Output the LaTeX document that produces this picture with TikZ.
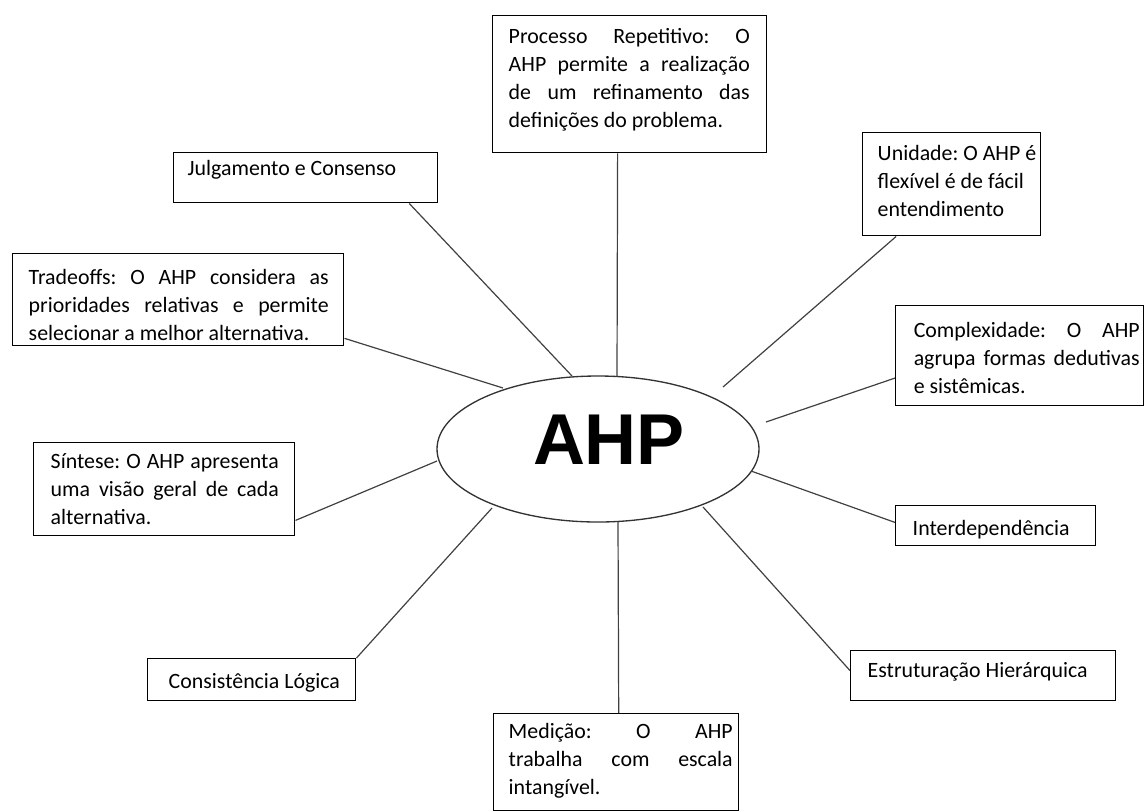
\documentclass[tikz,border=0pt]{standalone}
\usepackage{fontspec}
\setmainfont{Carlito}
\newfontfamily\ahpfont{Liberation Sans}
\usetikzlibrary{shapes.geometric,calc}
\newdimen\px \px=0.75pt
\frenchspacing
% #1 width, #2 height, #3 left skip, #4 right skip, #5 first baseline offset, #6 text
\newcommand\boxtext[6]{\parbox[c][#2\px][t]{#1\px}{\frenchspacing\tolerance=10000\hyphenpenalty=10000\leftskip=#3\rightskip=#4\rule{0pt}{#5\px}#6}}
\begin{document}
\begin{tikzpicture}[x=0.75pt,y=-0.75pt,
  box/.style={draw=black, line width=1.1pt, anchor=north west, inner sep=0pt, fill=white,
    font=\fontsize{16.4pt}{21pt}\selectfont},
  conn/.style={draw=black!75, line width=0.9pt},
  hub/.style={draw=black!80, line width=1pt, ellipse, minimum width=241.5pt, minimum height=109.5pt, inner sep=0pt},
  hubtext/.style={inner sep=0pt, font=\ahpfont\bfseries\fontsize{54pt}{54pt}\selectfont}]
\useasboundingbox (0,0) rectangle (1144,811);

% central ellipse
\node[hub] (ahp) at (598,449) {};
\node[hubtext] (ahptext) at (609,440) {AHP};

% boxes
\node[box] (b1) at (492,15) {\boxtext{274}{137}{16\px}{17\px}{28}{Processo Repetitivo: O\linebreak AHP permite a realização\linebreak de um refinamento das\linebreak definições do problema.}};
\node[box] (b2) at (173,152) {\boxtext{264}{50}{14\px}{5\px plus 1fil}{23}{Julgamento e Consenso}};
\node[box] (b3) at (862,132) {\boxtext{178}{103}{15\px}{3\px plus 1fil}{28}{Unidade: O AHP é\\flexível é de fácil\\entendimento}};
\node[box] (b4) at (12,253) {\boxtext{331}{92}{16\px}{15\px}{31}{Tradeoffs: O AHP considera as\linebreak prioridades relativas e permite\linebreak selecionar a melhor alternativa.}};
\node[box] (b5) at (895,305) {\boxtext{248}{100}{18\px}{4\px}{32}{Complexidade: O AHP\linebreak agrupa formas dedutivas\linebreak e sistêmicas.}};
\node[box] (b6) at (33,442) {\boxtext{261}{93}{17\px}{16\px}{26}{Síntese: O AHP apresenta\linebreak uma visão geral de cada\linebreak alternativa.}};
\node[box] (b7) at (895,505) {\boxtext{200}{40}{17\px}{3\px plus 1fil}{30}{Interdependência}};
\node[box] (b8) at (147,658) {\boxtext{208}{42}{21\px}{3\px plus 1fil}{30}{Consistência Lógica}};
\node[box] (b9) at (850,650) {\boxtext{265}{50}{17\px}{3\px plus 1fil}{27}{Estruturação Hierárquica}};
\node[box] (b10) at (493,713) {\boxtext{245}{97}{15\px}{6\px}{25}{Medição: O AHP\linebreak trabalha com escala\linebreak intangível.}};

% ends of the connectors near the ellipse
\coordinate (eP) at (617,376);
\coordinate (eJ) at (572,376);
\coordinate (eU) at (723,387);
\coordinate (eT) at (503,388);
\coordinate (eC) at (766,422);
\coordinate (eS) at (437,461);
\coordinate (eI) at (751,471);
\coordinate (eK) at (492,508);
\coordinate (eE) at (703,507);
\coordinate (eM) at (618,522);

% connectors
\draw[conn] ($(b1.south west)!0.456!(b1.south east)$) -- (eP);
\draw[conn] ($(b2.south west)!0.89!(b2.south east)$) -- (eJ);
\draw[conn] ($(b3.south west)!0.19!(b3.south east)$) -- (eU);
\draw[conn] ($(b4.north east)!0.913!(b4.south east)$) -- (eT);
\draw[conn] ($(b5.north west)!0.72!(b5.south west)$) -- (eC);
\draw[conn] ($(b6.north east)!0.83!(b6.south east)$) -- (eS);
\draw[conn] ($(b7.north west)!0.42!(b7.south west)$) -- (eI);
\draw[conn] (b8.north east) -- (eK);
\draw[conn] ($(b9.north west)!0.4!(b9.south west)$) -- (eE);
\draw[conn] ($(b10.north west)!0.51!(b10.north east)$) -- (eM);
\end{tikzpicture}
\end{document}
